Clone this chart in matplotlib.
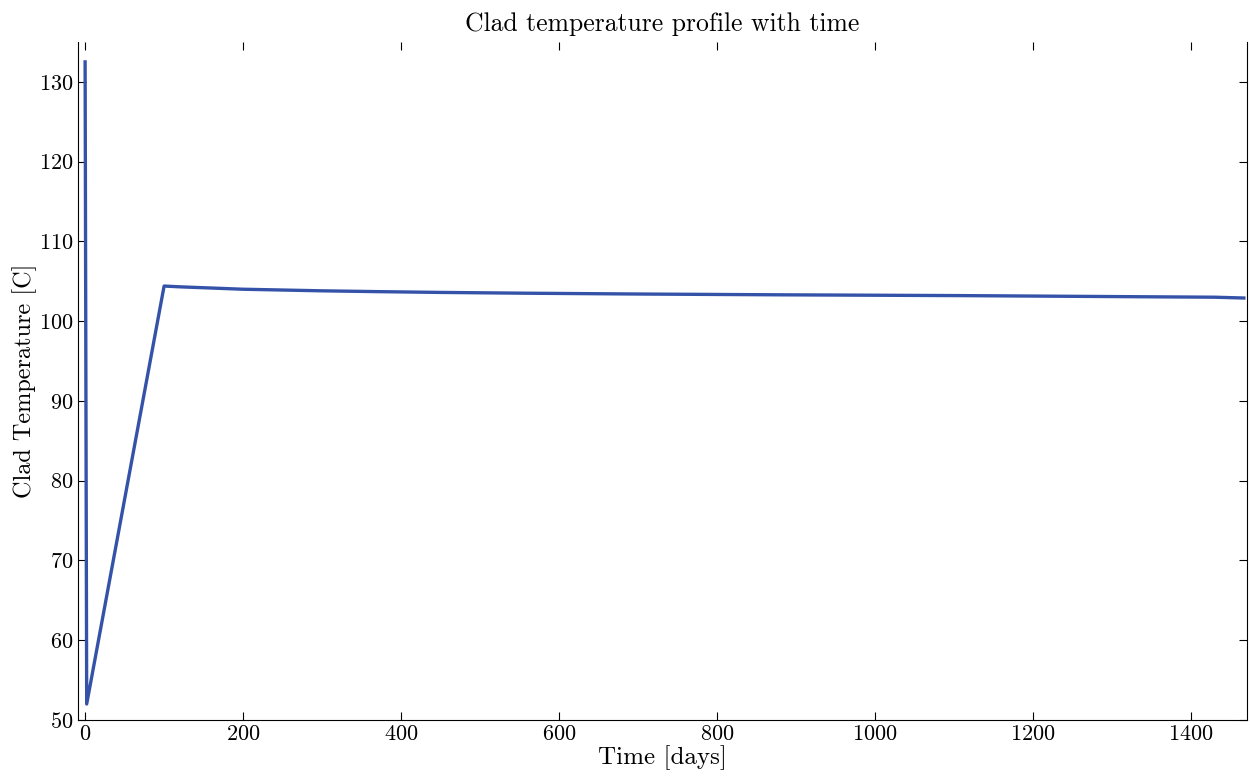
import matplotlib
matplotlib.use('Agg')
import matplotlib.pyplot as plt

plt.rcParams['font.family'] = 'cmr10'
plt.rcParams['mathtext.fontset'] = 'cm'
plt.rcParams['axes.formatter.use_mathtext'] = True

# Clad temperature [C] vs time [days]
time_days = [0, 2, 100, 120, 160, 200, 250, 300, 370, 450, 560, 700, 880, 1110, 1430, 1467]
clad_temp = [132.5, 52.0, 104.4, 104.3, 104.15, 104.0, 103.9, 103.8, 103.7, 103.6, 103.5,
             103.4, 103.3, 103.2, 103.0, 102.9]

fig = plt.figure(figsize=(12.5, 7.77), dpi=100)
ax = fig.add_axes([0.0624, 0.0734, 0.9352, 0.8726])

ax.plot(time_days, clad_temp, color='#3452a8', linewidth=2.4)

ax.set_xlim(-9, 1471)
ax.set_ylim(50, 135)
ax.set_xticks([0, 200, 400, 600, 800, 1000, 1200, 1400])
ax.set_yticks([50, 60, 70, 80, 90, 100, 110, 120, 130])
ax.tick_params(direction='in', top=True, right=True, length=6, width=0.8, labelsize=16)
ax.spines['top'].set_visible(False)

ax.set_xlabel('Time [days]', fontsize=18, labelpad=1)
ax.set_ylabel('Clad Temperature [C]', fontsize=17.5, labelpad=1)
ax.set_title('Clad temperature profile with time', fontsize=18.5, pad=8)

fig.savefig('out.png', dpi=100)
